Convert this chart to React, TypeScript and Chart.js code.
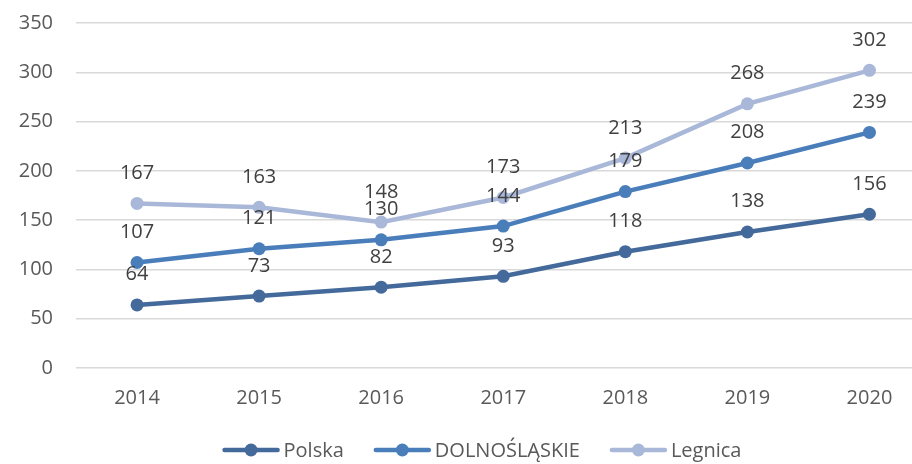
import React, { useEffect, useRef } from "react";
import { Chart, registerables } from "chart.js";

Chart.register(...registerables);

const years = ["2014", "2015", "2016", "2017", "2018", "2019", "2020"];
const polska = [64, 73, 82, 93, 118, 138, 156];
const dolnoslaskie = [107, 121, 130, 144, 179, 208, 239];
const legnica = [167, 163, 148, 173, 213, 268, 302];
const seriesNames = ["Polska", "DOLNOŚLĄSKIE", "Legnica"];
const seriesColors = ["#44699B", "#4A7EBB", "#A9B8D8"];
const yMin = 0;
const yMax = 350;
const yStep = 50;

const FONT = '"Open Sans", sans-serif';
const W = 937;
const SHIFT = 12;
const H = 464 + SHIFT;

const labelPlugin = {
  id: "valueLabels",
  afterDatasetsDraw(chart: any) {
    const ctx = chart.ctx;
    ctx.save();
    ctx.font = `20px ${FONT}`;
    ctx.fillStyle = "#404040";
    ctx.textAlign = "center";
    ctx.textBaseline = "alphabetic";
    chart.data.datasets.forEach((ds: any, i: number) => {
      const meta = chart.getDatasetMeta(i);
      meta.data.forEach((el: any, j: number) => {
        ctx.fillText(String(ds.data[j]), el.x, el.y - 24.5);
      });
    });
    ctx.restore();
  },
};

const legendPlugin = {
  id: "customLegend",
  afterDraw(chart: any) {
    const ctx = chart.ctx;
    ctx.save();
    ctx.font = `20px ${FONT}`;
    const lineLen = 57;
    const textGap = 4;
    const itemGap = 30;
    const widths = seriesNames.map((n) => ctx.measureText(n).width);
    const total =
      widths.reduce((a, b) => a + b, 0) +
      seriesNames.length * (lineLen + textGap) +
      (seriesNames.length - 1) * itemGap;
    let x = 482 - total / 2;
    const y = 450 + SHIFT;
    seriesNames.forEach((name, i) => {
      ctx.strokeStyle = seriesColors[i];
      ctx.lineWidth = 4.5;
      ctx.lineCap = "round";
      ctx.beginPath();
      ctx.moveTo(x + 2, y);
      ctx.lineTo(x + lineLen - 2, y);
      ctx.stroke();
      ctx.fillStyle = seriesColors[i];
      ctx.beginPath();
      ctx.arc(x + lineLen / 2, y, 6.5, 0, Math.PI * 2);
      ctx.fill();
      ctx.fillStyle = "#595959";
      ctx.textAlign = "left";
      ctx.textBaseline = "alphabetic";
      ctx.fillText(name, x + lineLen + textGap, y + 7.2);
      x += lineLen + textGap + widths[i] + itemGap;
    });
    ctx.restore();
  },
};

export default function App() {
  const ref = useRef<HTMLCanvasElement | null>(null);

  useEffect(() => {
    if (!ref.current) return;
    const seriesData = [polska, dolnoslaskie, legnica];
    const chart = new Chart(ref.current, {
      type: "line",
      data: {
        labels: years,
        datasets: seriesData.map((d, i) => ({
          label: seriesNames[i],
          data: d,
          borderColor: seriesColors[i],
          backgroundColor: seriesColors[i],
          pointBackgroundColor: seriesColors[i],
          pointBorderColor: seriesColors[i],
          borderWidth: 4.5,
          pointRadius: 6.5,
          pointBorderWidth: 0,
          tension: 0,
          fill: false,
          order: 3 - i,
        })),
      },
      options: {
        animation: false,
        responsive: false,
        maintainAspectRatio: false,
        layout: { padding: { top: 10, bottom: 36, left: 0, right: 0 } },
        plugins: {
          legend: { display: false },
          tooltip: { enabled: false },
        },
        scales: {
          x: {
            offset: true,
            grid: { display: false, drawTicks: false },
            border: { display: false },
            ticks: {
              color: "#595959",
              font: { family: FONT, size: 20 },
              padding: 18,
              maxRotation: 0,
            },
          },
          y: {
            min: yMin,
            max: yMax,
            grid: { color: "#D9D9D9", lineWidth: 1.5, drawTicks: false },
            border: { display: false },
            ticks: {
              stepSize: yStep,
              color: "#595959",
              font: { family: FONT, size: 20 },
              padding: 23,
            },
            afterFit(scale: any) {
              scale.width = 76;
            },
          },
        },
      },
      plugins: [labelPlugin, legendPlugin],
    });
    return () => chart.destroy();
  }, []);

  return (
    <div
      style={{
        position: "fixed",
        left: 0,
        top: -SHIFT,
        width: W,
        height: H,
        background: "#fff",
      }}
    >
      <canvas ref={ref} width={W} height={H} style={{ display: "block" }} />
    </div>
  );
}
